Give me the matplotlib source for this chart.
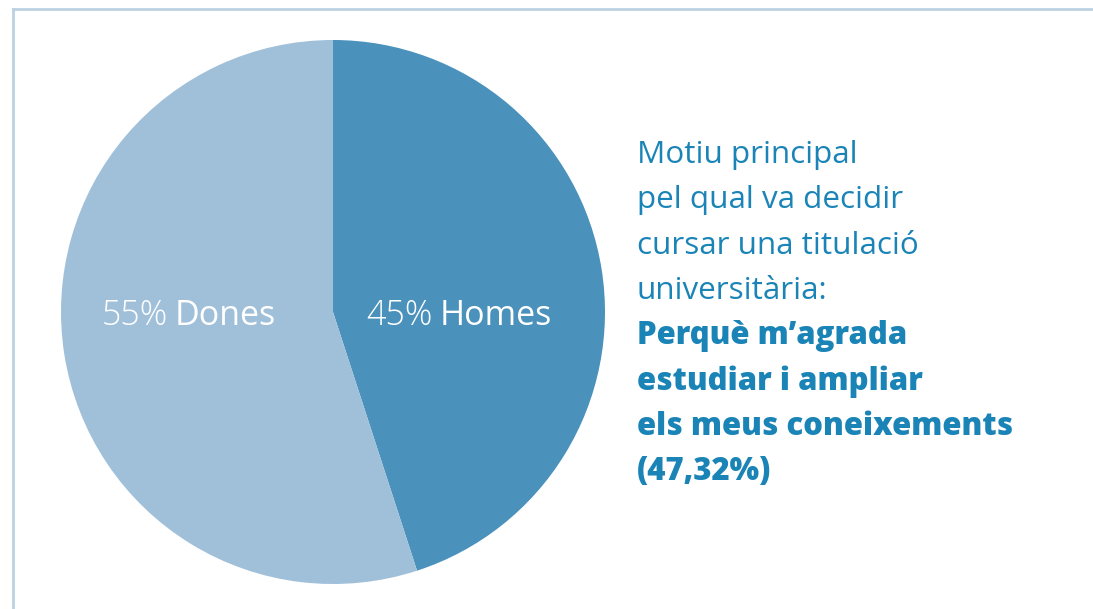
import matplotlib
matplotlib.use("Agg")
import matplotlib.pyplot as plt
from matplotlib.lines import Line2D

plt.rcParams['font.family'] = ['Open Sans', 'DejaVu Sans']

# dades
categories = ['Homes', 'Dones']
values = [45, 55]
colors = ['#4a91bb', '#a0c0da']

text_regular = ['Motiu principal', 'pel qual va decidir',
                'cursar una titulació', 'universitària:']
text_bold = ['Perquè m’agrada', 'estudiar i ampliar',
             'els meus coneixements', '(47,32%)']
text_color = '#1b84b7'

W, H = 1093, 609
fig = plt.figure(figsize=(W / 100, H / 100), dpi=100)

# marc (línia superior i esquerra)
fig.add_artist(Line2D([13 / W, 1], [1 - 9 / H, 1 - 9 / H], color='#bcd1e2', lw=2))
fig.add_artist(Line2D([13 / W, 13 / W], [0, 1 - 9 / H], color='#bcd1e2', lw=2))

# pastís
cx, cy, r = 333, 312, 272
ax = fig.add_axes([(cx - r) / W, (H - cy - r) / H, 2 * r / W, 2 * r / H])
ax.pie(values, colors=colors, startangle=90, counterclock=False,
       wedgeprops=dict(linewidth=0))
ax.set_xlim(-1, 1)
ax.set_ylim(-1, 1)
ax.set_aspect('equal')
ax.axis('off')

# etiquetes dins del pastís
label_split = {'Homes': 0.379, 'Dones': -0.596}
for cat, val in zip(categories, values):
    x = label_split[cat]
    ax.text(x - 0.012, -0.015, f'{val}%', ha='right', va='center',
            fontsize=24.5, color='white', fontweight='light')
    ax.text(x + 0.012, -0.015, cat, ha='left', va='center',
            fontsize=24.5, color='white', fontweight='normal')

# text de la dreta
x0 = 637 / W
y_base = 163
step = 45.3
lines = [(t, 'normal', 22.6) for t in text_regular] + \
        [(t, 'heavy', 22.4) for t in text_bold]
for i, (t, w, fs) in enumerate(lines):
    y = 1 - (y_base + i * step) / H
    fig.text(x0, y, t, ha='left', va='baseline', fontsize=fs,
             color=text_color, fontweight=w)

fig.savefig('out.png', dpi=100)
